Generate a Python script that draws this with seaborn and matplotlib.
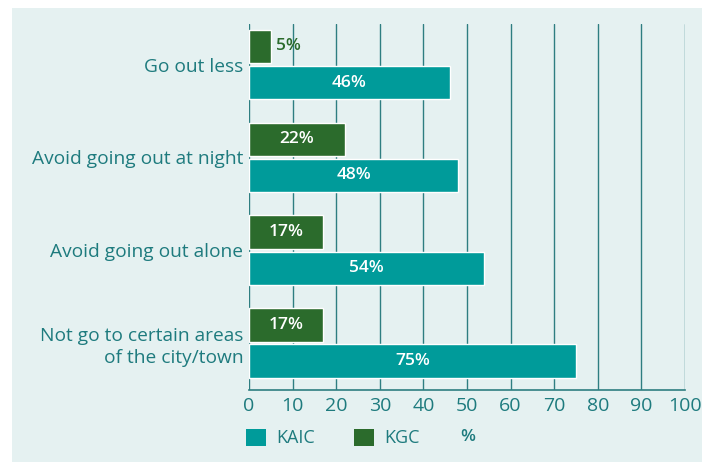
import matplotlib
matplotlib.use("Agg")
import matplotlib.pyplot as plt
import seaborn as sns
import pandas as pd
from matplotlib.patches import Patch, Rectangle

categories = ["Go out less", "Avoid going out at night", "Avoid going out alone",
              "Not go to certain areas\nof the city/town"]
kgc = [5, 22, 17, 17]
kaic = [46, 48, 54, 75]
series = ["KGC", "KAIC"]
xticks = [0, 10, 20, 30, 40, 50, 60, 70, 80, 90, 100]

BG = "#E5F1F1"
TEAL = "#009B9A"
GREEN = "#2B6B2C"
TXT = "#1E7B7E"
GRID = "#2E7E81"

df = pd.DataFrame({
    "category": categories * 2,
    "series": ["KGC"] * len(categories) + ["KAIC"] * len(categories),
    "value": kgc + kaic,
})

sns.set_theme(style="white")
plt.rcParams["font.family"] = ["Open Sans", "DejaVu Sans"]

fig = plt.figure(figsize=(7.02, 4.62), dpi=100)
fig.patch.set_facecolor("white")
fig.patches.append(Rectangle((12 / 702, 0), 1, (462 - 8) / 462, transform=fig.transFigure,
                             facecolor=BG, edgecolor="none", zorder=-10))
ax = fig.add_axes([249 / 702, 72 / 462, 436 / 702, 366 / 462])
ax.set_facecolor(BG)

sns.barplot(data=df, y="category", x="value", hue="series", hue_order=series,
            order=categories, palette={"KGC": GREEN, "KAIC": TEAL},
            width=0.78, gap=0.08, orient="h", ax=ax, legend=False,
            saturation=1, zorder=3)

ax.set_xlim(0, 100)
ax.set_ylim(3.506, -0.437)
ax.set_xticks(xticks)
ax.set_xticklabels([str(t) for t in xticks])
ax.set_xlabel("")
ax.set_ylabel("")
ax.grid(axis="x", color=GRID, linewidth=1.0, zorder=0)
ax.grid(axis="y", visible=False)
ax.set_axisbelow(True)
for s in ["top", "right", "left"]:
    ax.spines[s].set_visible(False)
ax.spines["bottom"].set_color(GRID)
ax.spines["bottom"].set_linewidth(1.2)
ax.tick_params(axis="x", length=0, pad=5, labelsize=14, labelcolor=TXT)
ax.tick_params(axis="y", length=0, pad=4, labelsize=13.8, labelcolor=TXT)
for lab in ax.get_yticklabels():
    lab.set_multialignment("right")
    lab.set_linespacing(1.25)

for name, cont in zip(series, ax.containers):
    for bar in cont:
        v = bar.get_width()
        yc = bar.get_y() + bar.get_height() / 2
        if v < 10:
            ax.text(v + 1.3, yc, f"{v:.0f}%", ha="left", va="center", color=GREEN,
                    fontsize=12.5, fontweight="semibold", zorder=5)
        else:
            ax.text(v / 2, yc, f"{v:.0f}%", ha="center", va="center", color="white",
                    fontsize=12.5, fontweight="semibold", zorder=5)

handles = [Patch(facecolor=TEAL, edgecolor="none"), Patch(facecolor=GREEN, edgecolor="none")]
leg = fig.legend(handles, ["KAIC", "KGC"], loc="center left",
                 bbox_to_anchor=(246 / 702, (462 - 438) / 462), ncol=2, frameon=False,
                 fontsize=13, handlelength=1.1, handleheight=1.1, handletextpad=0.55,
                 columnspacing=2.2, borderpad=0, borderaxespad=0)
for t in leg.get_texts():
    t.set_color(TXT)
fig.text(468 / 702, (462 - 437) / 462, "%", ha="center", va="center", color=TXT,
         fontsize=12.5, fontweight="semibold")

fig.savefig("out.png", dpi=100, facecolor=fig.get_facecolor())
